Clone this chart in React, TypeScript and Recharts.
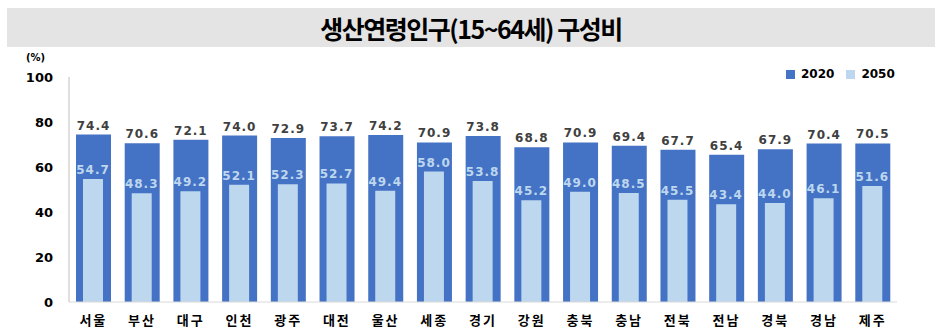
import { Bar, BarChart, LabelList, Legend, XAxis, YAxis } from "recharts";

const regions = ["서울", "부산", "대구", "인천", "광주", "대전", "울산", "세종", "경기", "강원", "충북", "충남", "전북", "전남", "경북", "경남", "제주"];
const share2020 = [74.4, 70.6, 72.1, 74.0, 72.9, 73.7, 74.2, 70.9, 73.8, 68.8, 70.9, 69.4, 67.7, 65.4, 67.9, 70.4, 70.5];
const share2050 = [54.7, 48.3, 49.2, 52.1, 52.3, 52.7, 49.4, 58.0, 53.8, 45.2, 49.0, 48.5, 45.5, 43.4, 44.0, 46.1, 51.6];
const yTicks = [0, 20, 40, 60, 80, 100];

const data = regions.map((name, i) => ({ name, y2020: share2020[i], y2050: share2050[i] }));

const DARK = "#4472c4";
const LIGHT = "#bdd7ee";

function LegendBox({ payload }: any) {
  return (
    <div style={{ display: "flex", gap: 12, fontFamily: "DejaVu Sans", fontWeight: 700, fontSize: 12, color: "#000" }}>
      {(payload || []).map((p: any) => (
        <div key={p.value} style={{ display: "flex", alignItems: "center", gap: 6 }}>
          <span style={{ width: 9, height: 9, background: p.color, display: "inline-block" }} />
          <span>{p.value}</span>
        </div>
      ))}
    </div>
  );
}

export default function App() {
  return (
    <div style={{ position: "absolute", left: 0, top: 0, width: 943, height: 334, background: "#fff" }}>
      <div
        style={{
          position: "absolute",
          left: 7,
          top: 8,
          width: 928,
          height: 39,
          background: "#e4e4e4",
          display: "flex",
          alignItems: "center",
          justifyContent: "center",
          fontFamily: "'Noto Sans CJK KR'",
          fontWeight: 700,
          fontSize: 25,
          letterSpacing: -1.5,
          color: "#000",
        }}
      >
        생산연령인구(15~64세) 구성비
      </div>
      <div style={{ position: "absolute", left: 26, top: 52, fontFamily: "DejaVu Sans", fontWeight: 700, fontSize: 10 }}>(%)</div>
      <BarChart width={943} height={334} data={data} margin={{ top: 77, right: 46, bottom: 2, left: 9 }}>
        <XAxis
          xAxisId="a"
          dataKey="name"
          height={30}
          tickLine={false}
          axisLine={{ stroke: "#d9d9d9" }}
          tick={{ fill: "#000", fontSize: 13, fontWeight: 700, fontFamily: "'Noto Sans CJK KR'", letterSpacing: 2 }}
          dy={6}
          interval={0}
        />
        <XAxis xAxisId="b" dataKey="name" hide />
        <YAxis
          domain={[0, 100]}
          ticks={yTicks}
          width={60}
          tickLine={false}
          axisLine={{ stroke: "#bfbfbf" }}
          tick={{ fill: "#000", fontSize: 13, fontWeight: 700, fontFamily: "DejaVu Sans" }}
          dx={-8}
        />
        <Legend
          layout="horizontal"
          verticalAlign="middle"
          align="center"
          content={<LegendBox />}
          wrapperStyle={{ position: "absolute", top: 67, left: 786, width: 130 }}
        />
        <Bar xAxisId="a" dataKey="y2020" name="2020" fill={DARK} barSize={35} isAnimationActive={false}>
          <LabelList
            dataKey="y2020"
            position="top"
            formatter={(v: any) => Number(v).toFixed(1)}
            style={{ fill: "#404040", fontSize: 12, fontWeight: 700, fontFamily: "DejaVu Sans", letterSpacing: 1 }}
          />
        </Bar>
        <Bar xAxisId="b" dataKey="y2050" name="2050" fill={LIGHT} barSize={20} isAnimationActive={false}>
          <LabelList
            dataKey="y2050"
            position="top"
            formatter={(v: any) => Number(v).toFixed(1)}
            style={{ fill: LIGHT, fontSize: 12, fontWeight: 700, fontFamily: "DejaVu Sans", letterSpacing: 1 }}
          />
        </Bar>
      </BarChart>
    </div>
  );
}
